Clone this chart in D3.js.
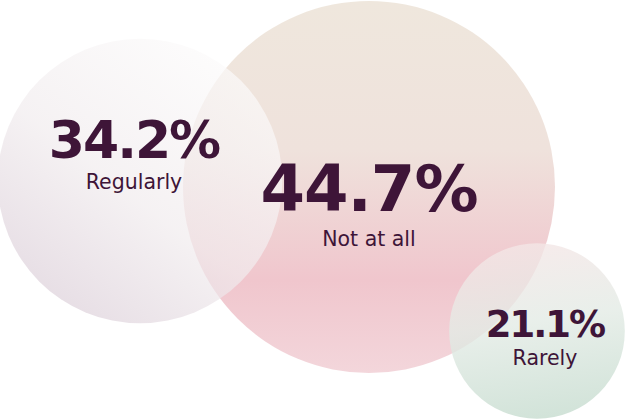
<!DOCTYPE html>
<html>
<head>
<meta charset="utf-8">
<script src="https://cdn.jsdelivr.net/npm/d3@7"></script>
<style>
  html, body { margin: 0; padding: 0; background: #ffffff; }
  svg { display: block; }
</style>
</head>
<body>
<svg id="chart" width="625" height="419"></svg>
<script>
// ---- data ----
const categories = ["Regularly", "Not at all", "Rarely"];
const values = [34.2, 44.7, 21.1];
const valueLabels = ["34.2%", "44.7%", "21.1%"];

// ---- layout (not data) ----
const centers = [[140, 181], [369, 187], [537, 331]];
const gradStops = [
  [["0%", "#fcfbfb"], ["55%", "#f1ecee"], ["100%", "#dccfd9"]],
  [["0%", "#efe7dd"], ["40%", "#efe2dc"], ["75%", "#f0c6cd"], ["100%", "#f3d6db"]],
  [["0%", "#f4e6e6"], ["45%", "#e3ebe5"], ["100%", "#c6dccf"]]
];
const gradDir = [
  {x1: "85%", y1: "10%", x2: "20%", y2: "95%"},
  {x1: "50%", y1: "0%", x2: "50%", y2: "100%"},
  {x1: "40%", y1: "0%", x2: "55%", y2: "100%"}
];
const circleOpacity = [0.7, 1, 0.8];
const drawOrder = [1, 0, 2];
// [x, value baseline, value size, value letter-spacing, label baseline]
const textPos = [[134, 158, 52, -2, 189], [369, 211, 64, -1, 246], [545, 337, 37, -2, 365]];

const svg = d3.select("#chart");
const r = d3.scaleLinear().domain([0, d3.max(values)]).range([0, 186]);

const defs = svg.append("defs");
values.forEach((v, i) => {
  const g = defs.append("linearGradient").attr("id", "g" + i)
    .attr("x1", gradDir[i].x1).attr("y1", gradDir[i].y1)
    .attr("x2", gradDir[i].x2).attr("y2", gradDir[i].y2);
  gradStops[i].forEach(s => g.append("stop").attr("offset", s[0]).attr("stop-color", s[1]));
});

const nodes = drawOrder.map(i => ({i, cat: categories[i], v: values[i], lab: valueLabels[i]}));

svg.append("g").selectAll("circle").data(nodes).join("circle")
  .attr("cx", d => centers[d.i][0])
  .attr("cy", d => centers[d.i][1])
  .attr("r", d => r(d.v))
  .attr("fill", d => "url(#g" + d.i + ")")
  .attr("fill-opacity", d => circleOpacity[d.i]);

const labels = svg.append("g");
nodes.forEach(d => {
  const p = textPos[d.i];
  labels.append("text")
    .attr("x", p[0]).attr("y", p[1])
    .attr("text-anchor", "middle")
    .attr("font-family", "'DejaVu Sans', sans-serif")
    .attr("font-weight", 700)
    .attr("font-size", p[2])
    .attr("letter-spacing", p[3] + "px")
    .attr("fill", "#3e1538")
    .text(d.lab);
  labels.append("text")
    .attr("x", p[0]).attr("y", p[4])
    .attr("text-anchor", "middle")
    .attr("font-family", "'DejaVu Sans', sans-serif")
    .attr("font-weight", 400)
    .attr("font-size", 20.5)
    .attr("fill", "#3e1538")
    .text(d.cat);
});
</script>
</body>
</html>
